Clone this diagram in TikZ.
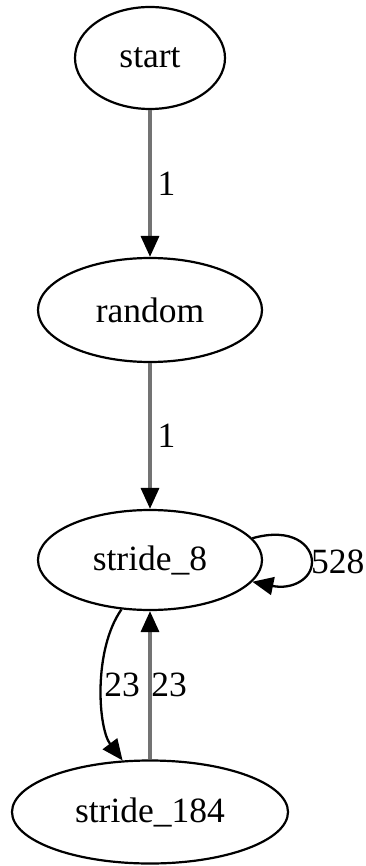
\documentclass[tikz,border=0pt]{standalone}
\usepackage{fontspec}
\setmainfont{Liberation Serif}
\usetikzlibrary{shapes.geometric,arrows.meta}
\begin{document}
\begin{tikzpicture}[x=1pt,y=1pt,
  state/.style={ellipse,draw=black,line width=2.2pt,inner sep=0pt,
    font=\fontsize{35.5}{40}\selectfont},
  gedge/.style={draw=black!55,line width=3.4pt,
    -{Triangle[length=21pt,width=18pt,fill=black,color=black]}},
  bedge/.style={draw=black,line width=2.3pt,-{Triangle[length=21pt,width=18pt]}},
  elabel/.style={font=\fontsize{35.5}{40}\selectfont,inner sep=0pt}]
\useasboundingbox (0,0) rectangle (365,-866);

% states
\node[state,minimum width=150pt,minimum height=102pt] (start) at (150,-58) {start};
\node[state,minimum width=224pt,minimum height=104pt] (random) at (150,-310) {random};
\node[state,minimum width=224pt,minimum height=100pt] (s8) at (150,-560) {stride\_8};
\node[state,minimum width=276pt,minimum height=103pt] (s184) at (150,-812) {stride\_184};

% transitions
\draw[gedge] (start) -- (random) node[elabel,midway,right=6pt] {1};
\draw[gedge] (random) -- (s8) node[elabel,midway,right=6pt] {1};
\draw[bedge] (s8.12) .. controls (292,-527) and (312,-545) .. (312,-562)
  .. controls (312,-579) and (292,-590) .. (s8.-12);
\node[elabel,anchor=west] (l528) at (311,-562) {528};
\draw[bedge] (s8.240) .. controls (93,-650) and (98,-728) .. (s184.118);
\node[elabel] (l23a) at (122,-685) {23};
\draw[gedge] (s184) -- (s8);
\node[elabel] (l23b) at (169,-685) {23};
\end{tikzpicture}
\end{document}
